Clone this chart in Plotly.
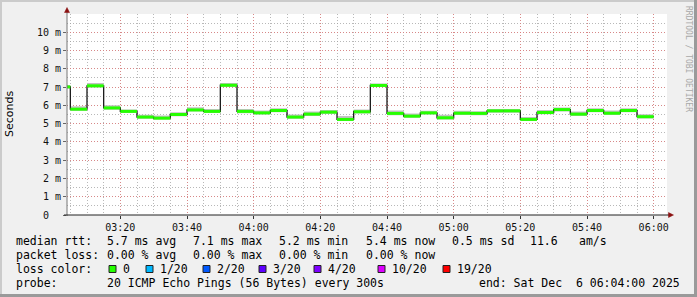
import plotly.graph_objects as go
import pandas as pd

# ---------------- data ----------------
interval_start = [
    "2025-12-06 03:00", "2025-12-06 03:05", "2025-12-06 03:10", "2025-12-06 03:15",
    "2025-12-06 03:20", "2025-12-06 03:25", "2025-12-06 03:30", "2025-12-06 03:35",
    "2025-12-06 03:40", "2025-12-06 03:45", "2025-12-06 03:50", "2025-12-06 03:55",
    "2025-12-06 04:00", "2025-12-06 04:05", "2025-12-06 04:10", "2025-12-06 04:15",
    "2025-12-06 04:20", "2025-12-06 04:25", "2025-12-06 04:30", "2025-12-06 04:35",
    "2025-12-06 04:40", "2025-12-06 04:45", "2025-12-06 04:50", "2025-12-06 04:55",
    "2025-12-06 05:00", "2025-12-06 05:05", "2025-12-06 05:10", "2025-12-06 05:15",
    "2025-12-06 05:20", "2025-12-06 05:25", "2025-12-06 05:30", "2025-12-06 05:35",
    "2025-12-06 05:40", "2025-12-06 05:45", "2025-12-06 05:50", "2025-12-06 05:55",
]
median_ms = [
    7.01, 5.79, 7.07, 5.86, 5.67, 5.36, 5.30, 5.50, 5.75, 5.67, 7.10, 5.67,
    5.59, 5.72, 5.36, 5.52, 5.63, 5.23, 5.65, 7.09, 5.56, 5.41, 5.59, 5.32,
    5.57, 5.56, 5.70, 5.70, 5.23, 5.61, 5.77, 5.52, 5.72, 5.57, 5.72, 5.38,
]
smoke_hi_ms = [
    7.12, 5.95, 7.22, 6.00, 5.78, 5.48, 5.45, 5.62, 5.90, 5.80, 7.22, 5.80,
    5.72, 5.84, 5.50, 5.66, 5.75, 5.42, 5.78, 7.20, 5.72, 5.55, 5.70, 5.48,
    5.70, 5.68, 5.80, 5.80, 5.36, 5.75, 5.88, 5.66, 5.84, 5.72, 5.84, 5.52,
]
smoke_lo_ms = [
    6.92, 5.70, 6.98, 5.76, 5.58, 5.27, 5.22, 5.40, 5.66, 5.58, 7.00, 5.57,
    5.50, 5.62, 5.27, 5.42, 5.53, 5.14, 5.55, 7.00, 5.46, 5.32, 5.50, 5.22,
    5.47, 5.46, 5.60, 5.60, 5.14, 5.51, 5.67, 5.42, 5.62, 5.47, 5.62, 5.28,
]
x_tick_vals = ["2025-12-06 03:20", "2025-12-06 03:40", "2025-12-06 04:00", "2025-12-06 04:20",
               "2025-12-06 04:40", "2025-12-06 05:00", "2025-12-06 05:20", "2025-12-06 05:40",
               "2025-12-06 06:00"]
x_tick_text = ["03:20", "03:40", "04:00", "04:20", "04:40", "05:00", "05:20", "05:40", "06:00"]
y_tick_vals = [0, 1, 2, 3, 4, 5, 6, 7, 8, 9, 10]
y_tick_text = ["0\u00a0\u00a0", "1 m", "2 m", "3 m", "4 m", "5 m", "6 m", "7 m", "8 m", "9 m", "10 m"]
x_range = ["2025-12-06 03:04:00", "2025-12-06 06:04:00"]

legend_rtt = [("median rtt:", 16), ("5.7 ms avg", 107), ("7.1 ms max", 193), ("5.2 ms min", 279),
              ("5.4 ms now", 366), ("0.5 ms sd", 452), ("11.6", 530), ("am/s", 579)]
legend_loss = [("packet loss:", 16), ("0.00 % avg", 107), ("0.00 % max", 193),
               ("0.00 % min", 279), ("0.00 % now", 366)]
loss_labels = ["0", "1/20", "2/20", "3/20", "4/20", "10/20", "19/20"]
loss_colors = ["#26ff00", "#00b8ff", "#0059ff", "#5e00ff", "#7e00ff", "#dd00ff", "#ff0000"]
loss_box_px = [109, 146, 203, 259, 314, 378, 443]
probe_text = "20 ICMP Echo Pings (56 Bytes) every 300s"
end_text = "end: Sat Dec  6 06:04:00 2025"

# ---------------- geometry helpers ----------------
W, H = 697, 297
L, R, T, B = 67, 667, 14, 215


def X(px):
    return (px - L) / (R - L)


def Y(py):
    return (B - py) / (B - T)


MONO = "DejaVu Sans Mono"
starts = pd.to_datetime(interval_start)
ends = starts + pd.Timedelta(minutes=5)

fig = go.Figure()

# smoke
sx, sy = [], []
for s, e, lo, hi in zip(starts, ends, smoke_lo_ms, smoke_hi_ms):
    sx += [s, e, e, s, s, None]
    sy += [lo, lo, hi, hi, lo, None]
fig.add_trace(go.Scatter(x=sx, y=sy, mode="lines", fill="toself", fillcolor="#c2c2c2",
                         line=dict(width=0), hoverinfo="skip", showlegend=False))

# black step line
fig.add_trace(go.Scatter(x=list(starts) + [ends[-1]], y=median_ms + [median_ms[-1]],
                         mode="lines", line=dict(color="#1a1a1a", width=1.3, shape="hv"),
                         hoverinfo="skip", showlegend=False))

# green median segments
gx, gy = [], []
for s, e, v in zip(starts, ends, median_ms):
    gx += [s, e, None]
    gy += [v, v, None]
fig.add_trace(go.Scatter(x=gx, y=gy, mode="lines", line=dict(color=loss_colors[0], width=3),
                         hoverinfo="skip", showlegend=False))

GRID = "rgba(160,160,160,0.75)"
MGRID = "rgba(225,120,120,0.75)"
DASH = "1px,2px"

fig.update_xaxes(type="date", range=x_range, tickmode="array", tickvals=x_tick_vals,
                 ticktext=x_tick_text, showgrid=True, gridcolor=MGRID, griddash=DASH, gridwidth=1,
                 ticks="outside", ticklen=3, tickcolor="#333", showline=False, zeroline=False,
                 tickfont=dict(family=MONO, size=10, color="#111"),
                 minor=dict(tickmode="linear", tick0="2025-12-06 03:00", dtick=300000,
                            showgrid=True, gridcolor=GRID, griddash=DASH, gridwidth=1))
fig.update_yaxes(range=[0, 11], tickmode="array", tickvals=y_tick_vals, ticktext=y_tick_text,
                 showgrid=True, gridcolor=MGRID, griddash=DASH, gridwidth=1,
                 ticks="outside", ticklen=3, tickcolor="#666", showline=False, zeroline=False,
                 tickfont=dict(family=MONO, size=10, color="#111"),
                 minor=dict(tickmode="linear", tick0=0, dtick=0.5,
                            showgrid=True, gridcolor=GRID, griddash=DASH, gridwidth=1))

shapes = []
# frame shading
shapes.append(dict(type="rect", xref="paper", yref="paper", x0=X(0), x1=X(W), y0=Y(0), y1=Y(2),
                   fillcolor="#cbcbcb", line=dict(width=0), layer="above"))
shapes.append(dict(type="rect", xref="paper", yref="paper", x0=X(0), x1=X(2), y0=Y(0), y1=Y(H),
                   fillcolor="#cbcbcb", line=dict(width=0), layer="above"))
shapes.append(dict(type="rect", xref="paper", yref="paper", x0=X(0), x1=X(W), y0=Y(H - 3), y1=Y(H),
                   fillcolor="#9a9a9a", line=dict(width=0), layer="above"))
shapes.append(dict(type="rect", xref="paper", yref="paper", x0=X(W - 3), x1=X(W), y0=Y(0), y1=Y(H),
                   fillcolor="#9a9a9a", line=dict(width=0), layer="above"))
# axis lines
shapes.append(dict(type="line", xref="paper", yref="paper", x0=X(67), x1=X(67), y0=Y(216), y1=Y(10),
                   line=dict(color="#777", width=1), layer="above"))
shapes.append(dict(type="line", xref="paper", yref="paper", x0=X(64), x1=X(669), y0=Y(215), y1=Y(215),
                   line=dict(color="#222", width=1), layer="above"))
# arrows
shapes.append(dict(type="path", xref="paper", yref="paper",
                   path=f"M {X(64.5)},{Y(12.5)} L {X(69.5)},{Y(12.5)} L {X(67)},{Y(7.5)} Z",
                   fillcolor="#8b1010", line=dict(color="#8b1010", width=0.5), layer="above"))
shapes.append(dict(type="path", xref="paper", yref="paper",
                   path=f"M {X(668.5)},{Y(212.5)} L {X(668.5)},{Y(217.5)} L {X(673.5)},{Y(215)} Z",
                   fillcolor="#8b1010", line=dict(color="#8b1010", width=0.5), layer="above"))
# loss color boxes
for bx, col in zip(loss_box_px, loss_colors):
    shapes.append(dict(type="rect", xref="paper", yref="paper", x0=X(bx), x1=X(bx + 7),
                       y0=Y(272.5), y1=Y(265.5), fillcolor=col, line=dict(color="#222", width=1)))

ann = []


def txt(text, px, py, size=11.5, anchor="left", color="#000", family=MONO, angle=0):
    ann.append(dict(text=text.replace(" ", "\u00a0"), x=X(px), y=Y(py), xref="paper", yref="paper",
                    xanchor=anchor, yanchor="middle", showarrow=False, textangle=angle,
                    font=dict(family=family, size=size, color=color), borderpad=0))


for t, px in legend_rtt:
    txt(t, px - 1, 241)
for t, px in legend_loss:
    txt(t, px - 1, 255)
txt("loss color:", 15, 269)
for bx, lab in zip(loss_box_px, loss_labels):
    txt(lab, bx + 13, 269)
txt("probe:", 15, 283)
txt(probe_text, 106, 283)
txt(end_text, 681, 283, anchor="right")
# y title
txt("Seconds", 10, 114, size=11, anchor="center", family="DejaVu Sans", angle=-90)
# watermark
ann.append(dict(text="RRDTOOL / TOBI OETIKER".replace(" ", "\u00a0"), x=X(688), y=Y(59),
                xref="paper", yref="paper", xanchor="center", yanchor="middle", showarrow=False,
                textangle=90, font=dict(family=MONO, size=8, color="#a8a8a8")))

fig.update_layout(width=W, height=H, margin=dict(l=L, r=W - R, t=T, b=H - B),
                  paper_bgcolor="#f0f0f0", plot_bgcolor="#ffffff",
                  shapes=shapes, annotations=ann, showlegend=False)

fig.write_html("out.html")
